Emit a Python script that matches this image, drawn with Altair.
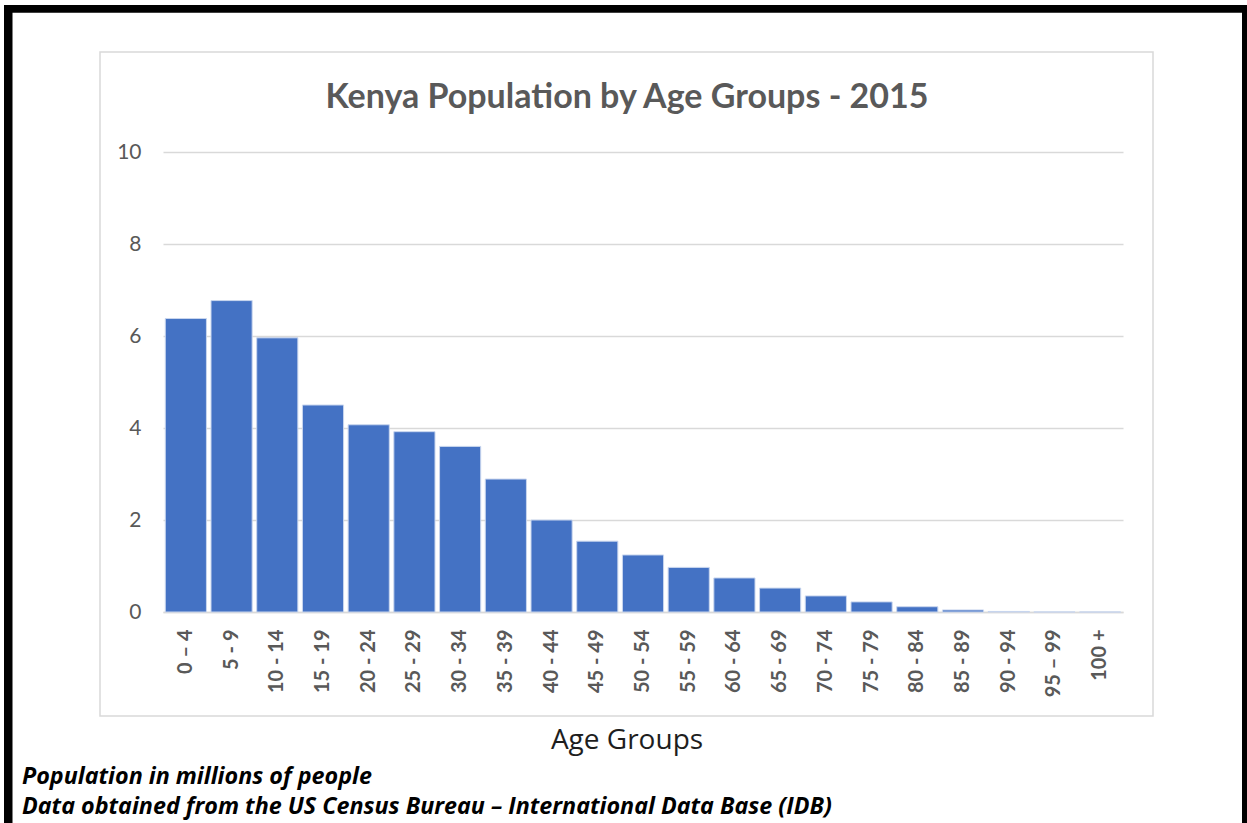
import altair as alt
import pandas as pd

# Kenya population by five-year age group, 2015 (millions)
age_groups = ["0 – 4", "5 - 9", "10 - 14", "15 - 19", "20 - 24", "25 - 29", "30 - 34",
              "35 - 39", "40 - 44", "45 - 49", "50 - 54", "55 - 59", "60 - 64", "65 - 69",
              "70 - 74", "75 - 79", "80 - 84", "85 - 89", "90 - 94", "95 – 99", "100 +"]
population = [6.38, 6.77, 5.96, 4.50, 4.07, 3.92, 3.60, 2.89, 2.00, 1.54, 1.24,
              0.97, 0.74, 0.52, 0.35, 0.22, 0.115, 0.045, 0.012, 0.002, 0.0003]
y_ticks = [0, 2, 4, 6, 8, 10]

title_text = "Kenya Population by Age Groups - 2015"
x_title_text = "Age Groups"
note_lines = ["Population in millions of people",
              "Data obtained from the US Census Bureau – International Data Base (IDB)"]

df = pd.DataFrame({"group": age_groups, "pop": population})
one = pd.DataFrame({"k": [0]})

FONT = "Lato"
NOTE_FONT = "Open Sans"
GRID = "#d9d9d9"
LABEL = "#595959"

# page frame (thick black edges) and the light chart-area box
frame_left = alt.Chart(one).mark_rect(color="black").encode(
    x=alt.value(-159), x2=alt.value(-150.5), y=alt.value(-147), y2=alt.value(680))
frame_top = alt.Chart(one).mark_rect(color="black").encode(
    x=alt.value(-159), x2=alt.value(1090), y=alt.value(-147), y2=alt.value(-139.3))
frame_right = alt.Chart(one).mark_rect(color="black").encode(
    x=alt.value(1079), x2=alt.value(1090), y=alt.value(-147), y2=alt.value(680))
chart_box = alt.Chart(one).mark_rect(fill=None, stroke=GRID, strokeWidth=1.5).encode(
    x=alt.value(-63), x2=alt.value(990), y=alt.value(-100), y2=alt.value(564))

bars = alt.Chart(df).mark_bar(color="#4472C4", stroke="#c9d6ee", strokeWidth=1).encode(
    x=alt.X("group:N", sort=age_groups,
            scale=alt.Scale(paddingInner=0.1, paddingOuter=0.05),
            axis=alt.Axis(title=None, labelAngle=270, labelAlign="right", labelBaseline="middle",
                          labelFont=FONT, labelFontSize=20, labelFontWeight="bold",
                          labelColor=LABEL, labelPadding=17, ticks=False,
                          domainColor=GRID, domainWidth=1.5)),
    y=alt.Y("pop:Q", scale=alt.Scale(domain=[0, 10], nice=False),
            axis=alt.Axis(title=None, values=y_ticks, labelFont=FONT, labelFontSize=21,
                          labelColor=LABEL, labelPadding=22, ticks=False, domain=False,
                          gridColor=GRID, gridWidth=1.5)),
)

title = alt.Chart(one).mark_text(text=title_text, font=FONT, fontSize=34, fontWeight="bold",
                                 color=LABEL, align="center", baseline="alphabetic").encode(
    x=alt.value(464), y=alt.value(-44))
x_title = alt.Chart(one).mark_text(text=x_title_text, font=NOTE_FONT, fontSize=28,
                                   color="#1e1e1e", align="center", baseline="alphabetic").encode(
    x=alt.value(464), y=alt.value(597))
note1 = alt.Chart(one).mark_text(text=note_lines[0], font=NOTE_FONT, fontSize=23.3, fontWeight="bold",
                                 fontStyle="italic", color="black", align="left",
                                 baseline="alphabetic").encode(x=alt.value(-141), y=alt.value(632))
note2 = alt.Chart(one).mark_text(text=note_lines[1], font=NOTE_FONT, fontSize=23.3, fontWeight="bold",
                                 fontStyle="italic", color="black", align="left",
                                 baseline="alphabetic").encode(x=alt.value(-141), y=alt.value(662))

chart = alt.layer(chart_box, frame_left, frame_top, frame_right, bars, title, x_title, note1, note2).properties(
    width=960, height=460,
    autosize=alt.AutoSizeParams(type="none"),
    padding={"left": 163, "top": 152, "right": 124, "bottom": 211},
    background="white",
).configure_view(stroke=None)

chart.save("out.html", embed_options={"renderer": "svg", "actions": False})
